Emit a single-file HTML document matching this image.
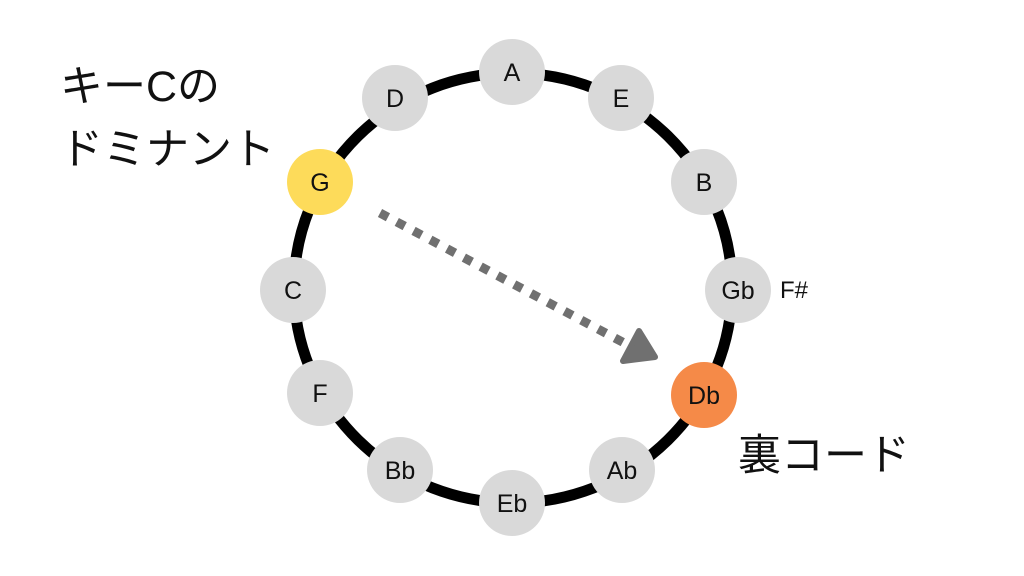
<!DOCTYPE html>
<html><head><meta charset="utf-8"><style>
html,body{margin:0;padding:0;background:#fff;}
svg{display:block;}
text{font-family:"Liberation Sans","Noto Sans CJK JP",sans-serif;}
</style></head><body>
<svg width="1024" height="576" viewBox="0 0 1024 576" xmlns="http://www.w3.org/2000/svg">
<ellipse cx="513" cy="288" rx="219" ry="215" fill="none" stroke="#000" stroke-width="11"/>
<line x1="380" y1="213" x2="628" y2="345" stroke="#707070" stroke-width="9" stroke-dasharray="9,10"/>
<polygon points="639,331 655,357 623,361" fill="#707070" stroke="#707070" stroke-width="6" stroke-linejoin="round"/>
<g font-size="25" text-anchor="middle" fill="#111">
<circle cx="512" cy="72" r="33" fill="#d9d9d9"/><text x="512" y="81">A</text>
<circle cx="621" cy="98" r="33" fill="#d9d9d9"/><text x="621" y="107">E</text>
<circle cx="704" cy="182" r="33" fill="#d9d9d9"/><text x="704" y="191">B</text>
<circle cx="738" cy="290" r="33" fill="#d9d9d9"/><text x="738" y="299">Gb</text>
<circle cx="704" cy="395" r="33" fill="#f58a48"/><text x="704" y="404">Db</text>
<circle cx="622" cy="470" r="33" fill="#d9d9d9"/><text x="622" y="479">Ab</text>
<circle cx="512" cy="503" r="33" fill="#d9d9d9"/><text x="512" y="512">Eb</text>
<circle cx="400" cy="470" r="33" fill="#d9d9d9"/><text x="400" y="479">Bb</text>
<circle cx="320" cy="393" r="33" fill="#d9d9d9"/><text x="320" y="402">F</text>
<circle cx="293" cy="290" r="33" fill="#d9d9d9"/><text x="293" y="299">C</text>
<circle cx="320" cy="182" r="33" fill="#fddb5a"/><text x="320" y="191">G</text>
<circle cx="395" cy="98" r="33" fill="#d9d9d9"/><text x="395" y="107">D</text>
</g>
<text x="780" y="298" font-size="24" fill="#111">F#</text>
<text x="60" y="101" font-size="43" fill="#111">キーCの</text>
<text x="60" y="164" font-size="43" fill="#111">ドミナント</text>
<text x="738" y="470" font-size="43" fill="#111">裏コード</text>
</svg>
</body></html>
